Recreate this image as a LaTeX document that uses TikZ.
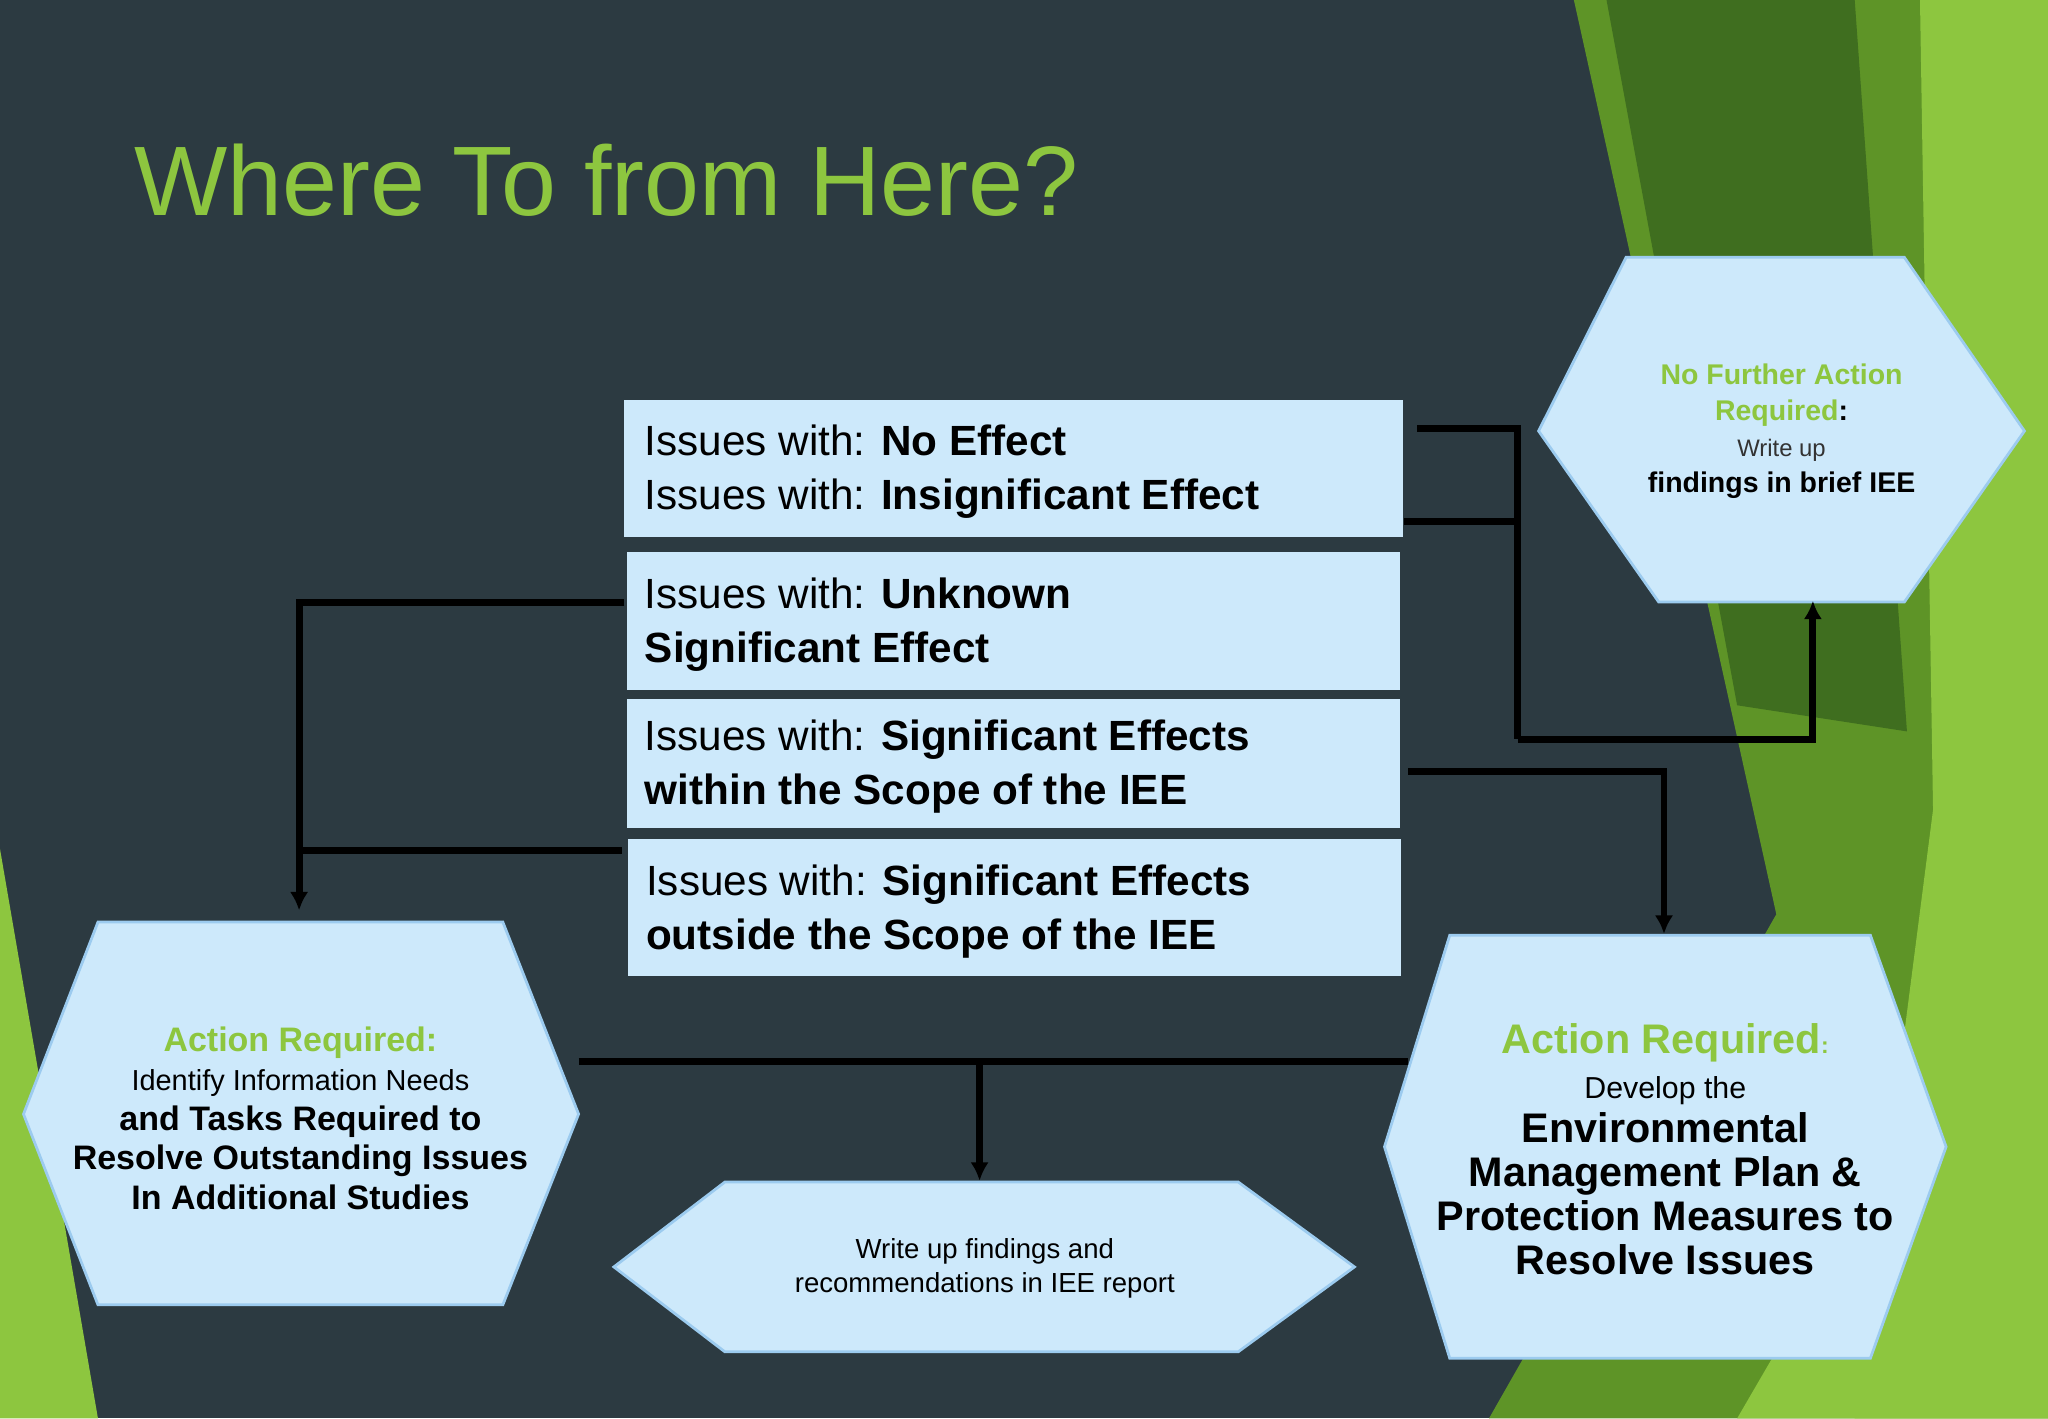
\documentclass[tikz,border=0pt]{standalone}
\usepackage{fontspec}
\setmainfont{Liberation Sans}
\usetikzlibrary{arrows.meta}
\begin{document}
\begin{tikzpicture}[x=0.01cm,y=-0.01cm,
  box/.style={fill=boxblue,draw=none},
  hexa/.style={fill=boxblue,draw=edgeblue,line width=0.6pt},
  conn/.style={draw=black,line width=1.5pt},
  arr/.style={conn,-{Latex[length=4pt,width=4pt]}}]
\definecolor{bg}{HTML}{2C3A41}
\definecolor{boxblue}{HTML}{CDE9FB}
\definecolor{edgeblue}{HTML}{9CCBEF}
\definecolor{ttl}{HTML}{8DC63F}
\definecolor{dgreen}{HTML}{3F6E1F}
\definecolor{mgreen}{HTML}{5E9427}
\definecolor{lgreen}{HTML}{8DC63F}
\useasboundingbox (0,0) rectangle (1568,1086);
\fill[bg] (0,0) rectangle (1568,1086);
% background greens
\fill[mgreen] (1205,0) -- (1568,0) -- (1568,1086) -- (1140,1086) -- (1360,700) -- cycle;
\fill[dgreen] (1230,0) -- (1420,0) -- (1460,560) -- (1330,540) -- cycle;
\fill[lgreen] (1470,0) -- (1568,0) -- (1568,1086) -- (1420,1086) -- (1480,620) -- cycle;
\fill[lgreen] (1380,1000) -- (1568,960) -- (1568,1086) -- (1330,1086) -- cycle;
\fill[lgreen] (0,650) -- (75,1086) -- (0,1086) -- cycle;
% title
\node[anchor=base west,text=ttl,font=\fontsize{21.5}{24}\selectfont,inner sep=0] (title) at (102,165) {Where To from Here?};
% boxes
\fill[box] (478,306) rectangle (1074,411);
\fill[box] (480,423) rectangle (1072,528);
\fill[box] (480,535) rectangle (1072,634);
\fill[box] (481,642) rectangle (1073,747);
\begin{scope}[every node/.style={anchor=west,align=left,inner sep=0,font=\fontsize{9.2}{11.7}\selectfont}]
\node (b1) at (493,361) {Issues with: \textbf{No Effect}\\Issues with: \textbf{Insignificant Effect}};
\node (b2) at (493,478) {Issues with: \textbf{Unknown}\\\textbf{Significant Effect}};
\node (b3) at (493,587) {Issues with: \textbf{Significant Effects}\\\textbf{within the Scope of the IEE}};
\node (b4) at (494,698) {Issues with: \textbf{Significant Effects}\\\textbf{outside the Scope of the IEE}};
\end{scope}
% hexagons
\draw[hexa] (1178,330) -- (1245,197) -- (1458,197) -- (1550,330) -- (1458,461) -- (1270,461) -- cycle;
\draw[hexa] (18,853) -- (75,706) -- (385,706) -- (443,853) -- (385,999) -- (75,999) -- cycle;
\draw[hexa] (470,970) -- (555,905) -- (948,905) -- (1037,970) -- (948,1035) -- (555,1035) -- cycle;
\draw[hexa] (1060,878) -- (1110,716) -- (1432,716) -- (1490,878) -- (1432,1040) -- (1110,1040) -- cycle;
\node[align=center,inner sep=0,font=\fontsize{6.2}{7.8}\selectfont\bfseries] (h1) at (1364,330)
  {\textcolor{ttl}{No Further Action}\\\textcolor{ttl}{Required}:\\\fontsize{5.2}{6.6}\selectfont\mdseries\color{black!80}Write up\\findings in brief IEE};
\node[align=center,inner sep=0,font=\fontsize{7.4}{8.6}\selectfont\bfseries] (h2) at (230,856)
  {\textcolor{ttl}{Action Required:}\\\fontsize{6.3}{7.6}\selectfont\mdseries Identify Information Needs\\and Tasks Required to\\Resolve Outstanding Issues\\In Additional Studies};
\node[align=center,inner sep=0,font=\fontsize{6}{7.4}\selectfont] (h3) at (754,971) {Write up findings and\\recommendations in IEE report};
\node[align=center,inner sep=0,font=\fontsize{9}{9.6}\selectfont\bfseries] (h4) at (1275,880)
  {\textcolor{ttl}{Action Required}{\fontsize{5}{6}\selectfont\color{ttl}:}\\\fontsize{6.6}{8}\selectfont\mdseries Develop the\\Environmental\\Management Plan \&\\Protection Measures to\\Resolve Issues};
% connector coordinates
\coordinate (c1) at (1085,328);\coordinate (c1b) at (1162,328);
\coordinate (c2) at (1075,399);\coordinate (c2b) at (1162,399);
\coordinate (c3) at (1162,566);\coordinate (c4) at (1388,566);\coordinate (h1in) at (1388,460);
\coordinate (l1) at (478,461);\coordinate (l2) at (229,461);\coordinate (h2in) at (229,697);
\coordinate (l3) at (476,651);\coordinate (l4) at (229,651);
\coordinate (r1) at (1078,591);\coordinate (r2) at (1274,591);\coordinate (h4in) at (1274,715);
\coordinate (m1) at (443,813);\coordinate (m2) at (1078,813);\coordinate (m3) at (750,813);\coordinate (h3in) at (750,904);
\draw[conn] (c1) -- (c1b) -- (c3);
\draw[conn] (c2) -- (c2b);
\draw[arr] (c3) -- (c4) -- (h1in);
\draw[arr] (l1) -- (l2) -- (h2in);
\draw[conn] (l3) -- (l4);
\draw[arr] (r1) -- (r2) -- (h4in);
\draw[conn] (m1) -- (m2);
\draw[arr] (m3) -- (h3in);
\end{tikzpicture}
\end{document}
